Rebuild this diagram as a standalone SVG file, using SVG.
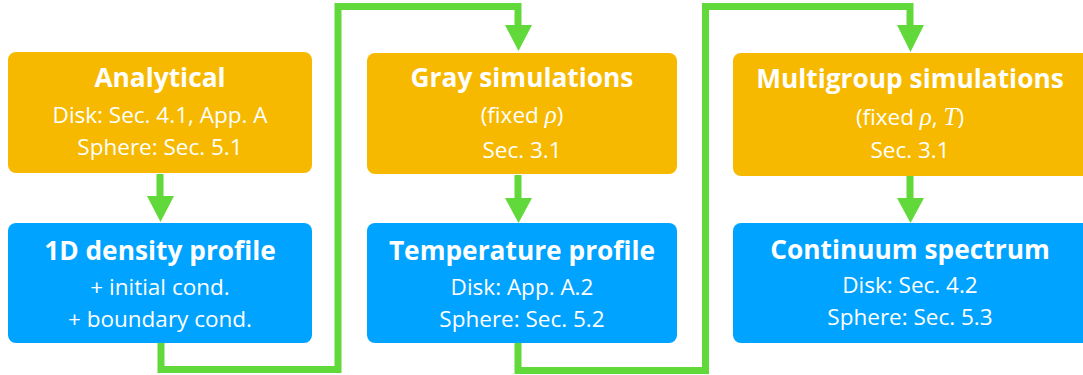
<svg xmlns="http://www.w3.org/2000/svg" width="1083" height="375" viewBox="0 0 1083 375">
<defs>
<style>
.o{fill:#f6b900}
.b{fill:#00a3ff}
.t{font-family:"Open Sans","Liberation Sans",sans-serif;font-weight:bold;font-size:26.3px;fill:#fff;text-anchor:middle}
.s{font-family:"Open Sans","Liberation Sans",sans-serif;font-size:22.5px;fill:#fff;text-anchor:middle}
.m{font-family:"Liberation Serif",serif;font-style:italic;font-size:25px}
.c{fill:none;stroke:#62d93a;stroke-width:7;stroke-linejoin:miter}
.h{fill:#62d93a}
</style>
</defs>
<g id="connectors">
<path class="c" d="M160 174 V198"/>
<polygon class="h" points="147,196 174,196 160.5,222"/>
<path class="c" d="M518 175 V200"/>
<polygon class="h" points="505,198 532,198 518.5,223"/>
<path class="c" d="M910 176 V200"/>
<polygon class="h" points="897,198 924,198 910.5,223"/>
<path class="c" d="M161 343 V369.5 H338 V6.5 H518 V27"/>
<polygon class="h" points="505,25 532,25 518.5,51"/>
<path class="c" d="M518 343 V370.5 H705.5 V6.5 H910 V27"/>
<polygon class="h" points="897,25 924,25 910.5,52"/>
</g>
<g id="analytical">
<rect class="o" x="8" y="52" width="304" height="121" rx="8"/>
<text class="t" x="160" y="87">Analytical</text>
<text class="s" x="160" y="123">Disk: Sec. 4.1, App. A</text>
<text class="s" x="160" y="155">Sphere: Sec. 5.1</text>
</g>
<g id="density">
<rect class="b" x="8" y="223" width="304" height="120" rx="8"/>
<text class="t" x="160" y="260">1D density profile</text>
<text class="s" x="160" y="295">+ initial cond.</text>
<text class="s" x="160" y="327">+ boundary cond.</text>
</g>
<g id="gray">
<rect class="o" x="367" y="53" width="310" height="121" rx="8"/>
<text class="t" x="522" y="87">Gray simulations</text>
<text class="s" x="522" y="123">(fixed <tspan class="m">ρ</tspan>)</text>
<text class="s" x="522" y="158">Sec. 3.1</text>
</g>
<g id="temperature">
<rect class="b" x="367" y="223" width="310" height="120" rx="8"/>
<text class="t" x="522" y="260">Temperature profile</text>
<text class="s" x="522" y="295">Disk: App. A.2</text>
<text class="s" x="522" y="327">Sphere: Sec. 5.2</text>
</g>
<g id="multigroup">
<rect class="o" x="733" y="53" width="360" height="123" rx="8"/>
<text class="t" x="910" y="88">Multigroup simulations</text>
<text class="s" x="910" y="125">(fixed <tspan class="m">ρ</tspan>, <tspan class="m">T</tspan>)</text>
<text class="s" x="910" y="158">Sec. 3.1</text>
</g>
<g id="continuum">
<rect class="b" x="733" y="223" width="360" height="120" rx="8"/>
<text class="t" x="910" y="259">Continuum spectrum</text>
<text class="s" x="910" y="293">Disk: Sec. 4.2</text>
<text class="s" x="910" y="325">Sphere: Sec. 5.3</text>
</g>
</svg>
